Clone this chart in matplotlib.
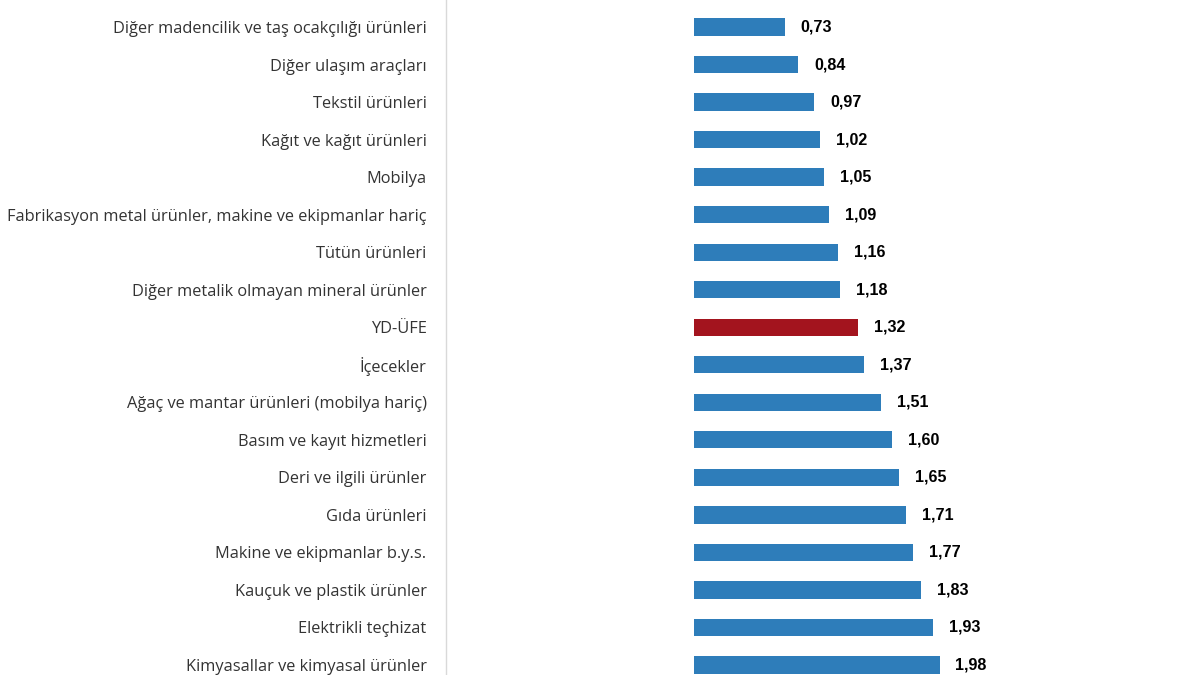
import matplotlib
matplotlib.use("Agg")
import matplotlib.pyplot as plt

# ── Data ─────────────────────────────────────────────────────────────────────
CATEGORIES = [
    "Diğer madencilik ve taş ocakçılığı ürünleri",
    "Diğer ulaşım araçları",
    "Tekstil ürünleri",
    "Kağıt ve kağıt ürünleri",
    "Mobilya",
    "Fabrikasyon metal ürünler, makine ve ekipmanlar hariç",
    "Tütün ürünleri",
    "Diğer metalik olmayan mineral ürünler",
    "YD-ÜFE",
    "İçecekler",
    "Ağaç ve mantar ürünleri (mobilya hariç)",
    "Basım ve kayıt hizmetleri",
    "Deri ve ilgili ürünler",
    "Gıda ürünleri",
    "Makine ve ekipmanlar b.y.s.",
    "Kauçuk ve plastik ürünler",
    "Elektrikli teçhizat",
    "Kimyasallar ve kimyasal ürünler",
]
VALUES = [0.73, 0.84, 0.97, 1.02, 1.05, 1.09, 1.16, 1.18, 1.32,
          1.37, 1.51, 1.60, 1.65, 1.71, 1.77, 1.83, 1.93, 1.98]
HIGHLIGHT = "YD-ÜFE"

BLUE = "#2e7dba"
RED = "#a3141e"

# ── Plot ─────────────────────────────────────────────────────────────────────
W, H = 1200, 675
fig = plt.figure(figsize=(12, 6.75), dpi=100)
ax = fig.add_axes([446 / W, 0, 1 - 446 / W, 1])

pos = list(range(len(CATEGORIES)))
colors = [RED if c == HIGHLIGHT else BLUE for c in CATEGORIES]
ax.barh(pos, VALUES, height=0.46, color=colors, zorder=2)

for p, v in zip(pos, VALUES):
    ax.annotate(f"{v:.2f}".replace(".", ","), (v, p), xytext=(11.5, 0),
                textcoords="offset points", va="center", ha="left",
                fontsize=11.6, fontweight="bold", family="Liberation Sans",
                color="#000000")

ax.set_xlim(-2.0, (W - 694) / 124.0)
ax.set_ylim(17 + 10 / 37.53, -27 / 37.53)
ax.set_yticks(pos)
ax.set_yticklabels(CATEGORIES, fontsize=11.8, family="Open Sans", color="#333333")
ax.tick_params(axis="y", length=0, pad=14)
ax.set_xticks([])

for s in ["top", "right", "bottom"]:
    ax.spines[s].set_visible(False)
ax.spines["left"].set_color("#d9d9d9")
ax.spines["left"].set_linewidth(1)

fig.savefig("out.png", dpi=100)
